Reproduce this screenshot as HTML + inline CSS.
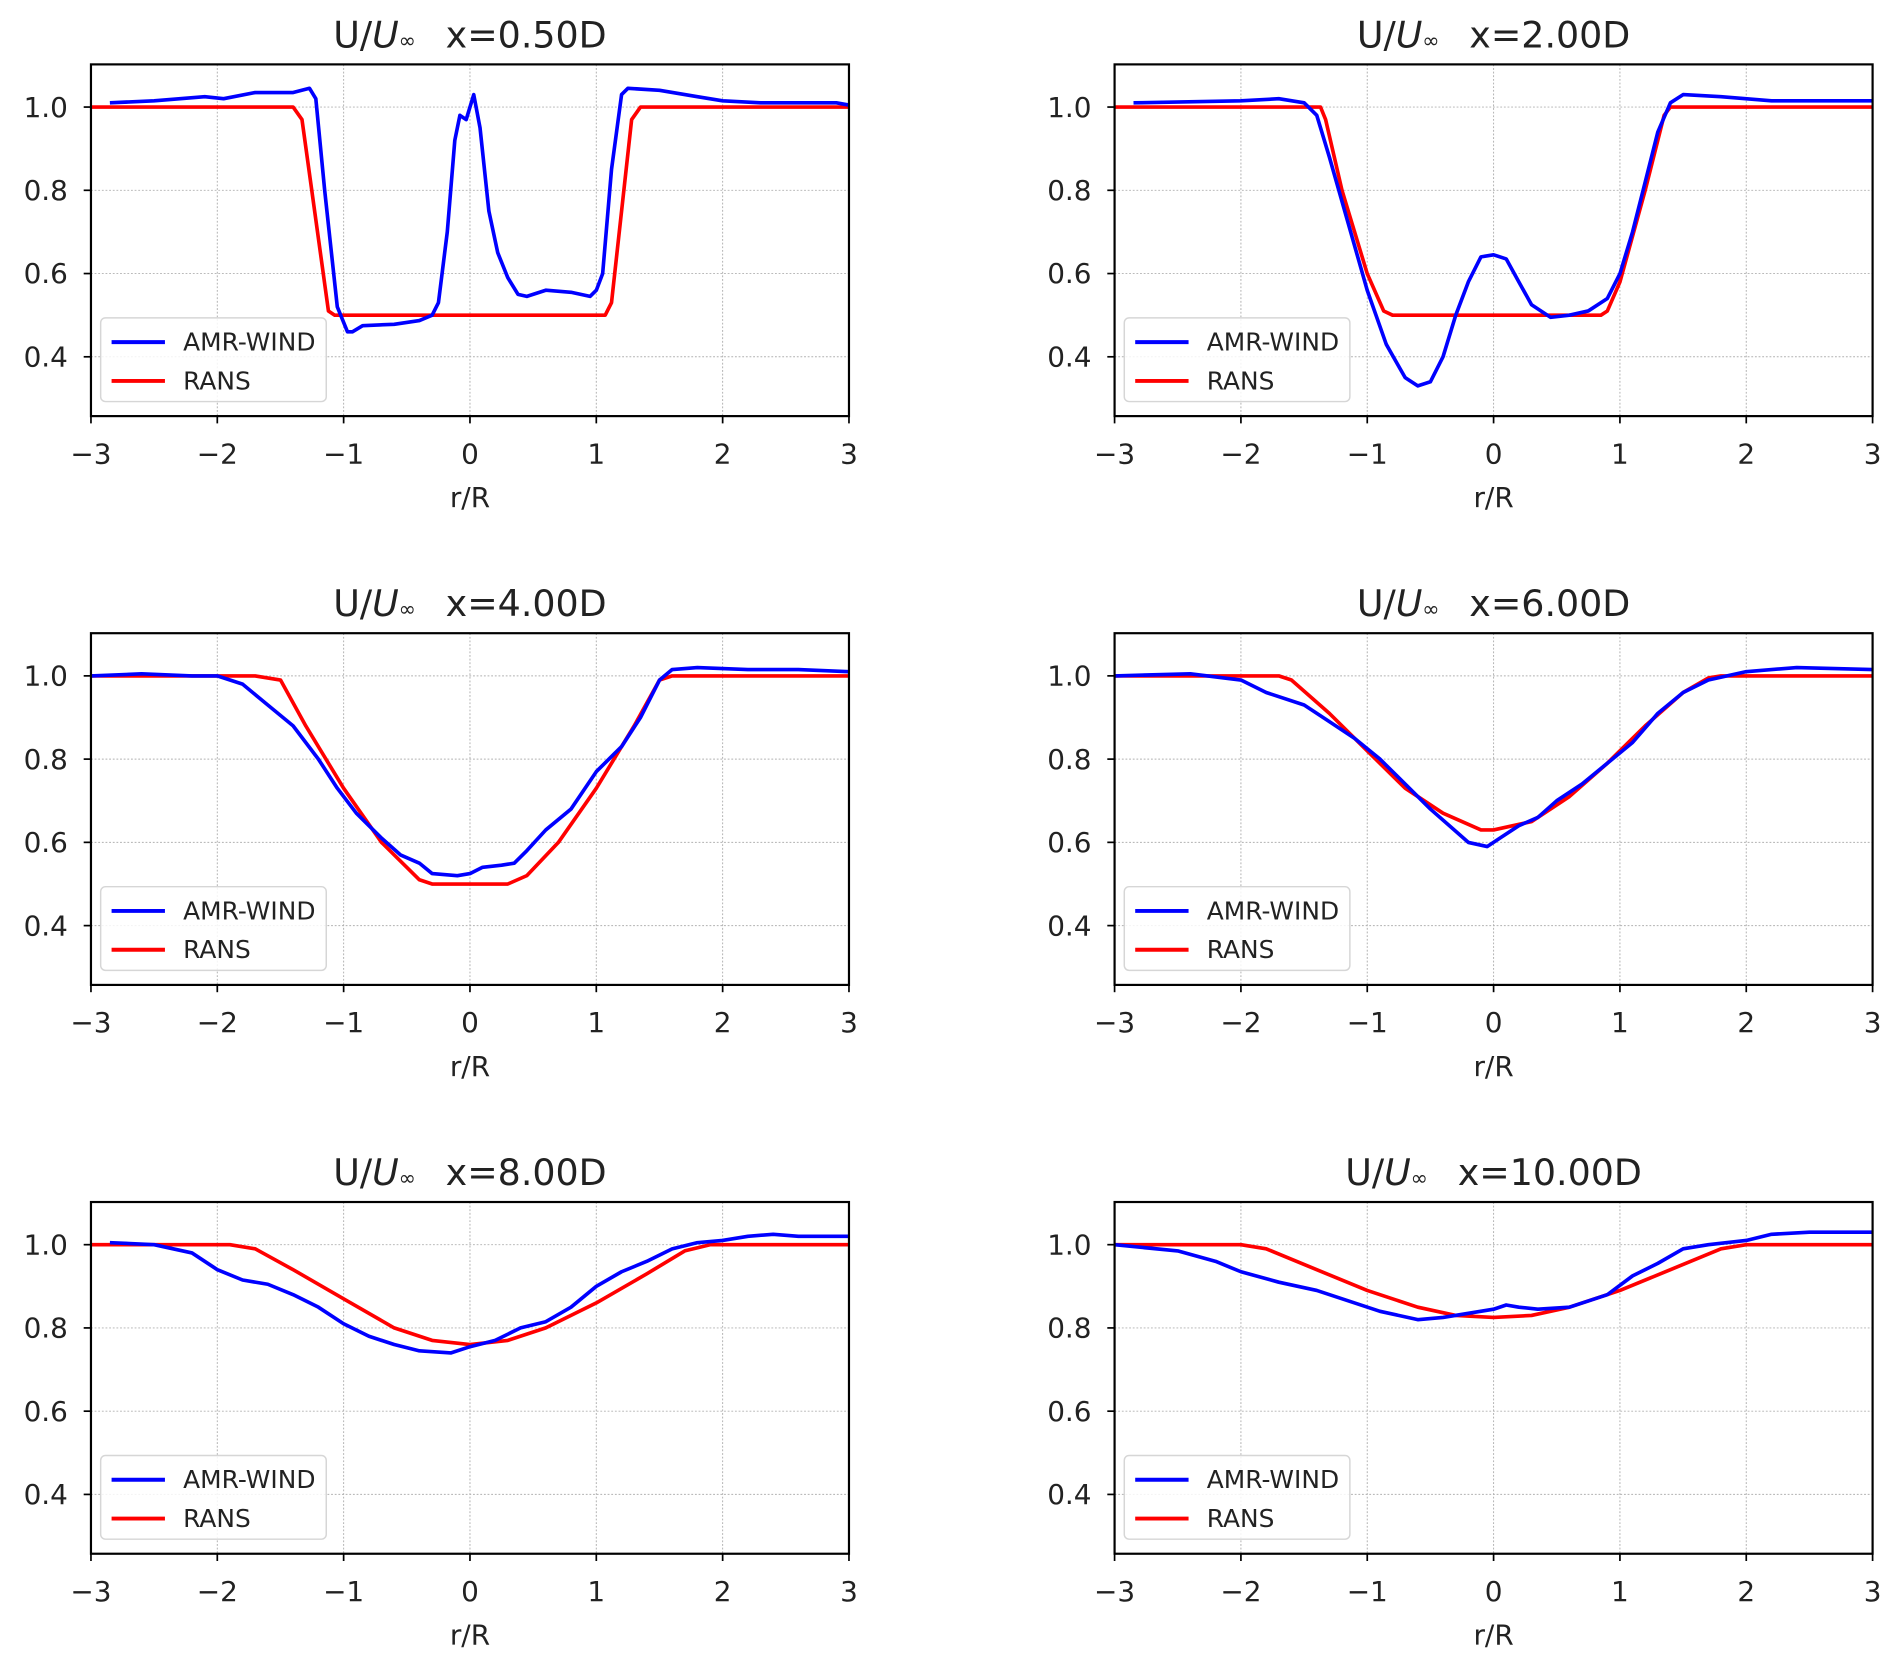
<!DOCTYPE html>
<html><head><meta charset="utf-8"><style>
html,body{margin:0;padding:0;background:#fff;}
svg{display:block;font-family:"DejaVu Sans","Liberation Sans",sans-serif;}
</style></head><body>
<svg id="fig" width="1892" height="1663" viewBox="0 0 1560 1371" xmlns="http://www.w3.org/2000/svg"></svg>
<script>
const titles = ["x=0.50D","x=2.00D","x=4.00D","x=6.00D","x=8.00D","x=10.00D"];
const xTicks = [-3,-2,-1,0,1,2,3];
const yTicks = [0.4,0.6,0.8,1.0];
const amrR = [
 [-2.85,-2.5,-2.1,-1.95,-1.7,-1.4,-1.27,-1.22,-1.15,-1.05,-0.97,-0.93,-0.85,-0.6,-0.4,-0.3,-0.25,-0.18,-0.12,-0.08,-0.03,0.03,0.08,0.15,0.22,0.3,0.38,0.45,0.6,0.8,0.95,1.0,1.05,1.12,1.2,1.25,1.5,1.8,2.0,2.3,2.6,2.9,3.0],
 [-2.85,-2,-1.7,-1.5,-1.4,-1.3,-1.15,-1.0,-0.85,-0.7,-0.6,-0.5,-0.4,-0.3,-0.2,-0.1,0,0.1,0.2,0.3,0.45,0.6,0.75,0.9,1.0,1.1,1.2,1.3,1.4,1.5,1.8,2.2,2.5,3],
 [-3,-2.6,-2.2,-2.0,-1.8,-1.6,-1.4,-1.2,-1.05,-0.9,-0.7,-0.55,-0.4,-0.3,-0.1,0,0.1,0.25,0.35,0.45,0.6,0.8,1.0,1.2,1.35,1.5,1.6,1.8,2.2,2.6,3],
 [-3,-2.4,-2.0,-1.8,-1.5,-1.3,-1.1,-0.9,-0.7,-0.5,-0.35,-0.2,-0.05,0.05,0.2,0.35,0.5,0.7,0.9,1.1,1.3,1.5,1.7,2.0,2.4,3],
 [-2.85,-2.5,-2.2,-2.0,-1.8,-1.6,-1.4,-1.2,-1.0,-0.8,-0.6,-0.4,-0.15,0,0.2,0.4,0.6,0.8,1.0,1.2,1.4,1.6,1.8,2.0,2.2,2.4,2.6,3],
 [-3,-2.5,-2.2,-2.0,-1.7,-1.4,-1.1,-0.9,-0.6,-0.4,-0.2,0,0.1,0.2,0.35,0.6,0.9,1.1,1.3,1.5,1.7,2.0,2.2,2.5,3]
];
const amrU = [
 [1.01,1.015,1.025,1.02,1.035,1.035,1.045,1.02,0.8,0.52,0.46,0.46,0.475,0.478,0.487,0.5,0.53,0.7,0.92,0.98,0.97,1.03,0.95,0.75,0.65,0.59,0.55,0.545,0.56,0.555,0.545,0.56,0.6,0.85,1.03,1.045,1.04,1.025,1.015,1.01,1.01,1.01,1.005],
 [1.01,1.015,1.02,1.01,0.98,0.88,0.72,0.56,0.43,0.35,0.33,0.34,0.4,0.5,0.58,0.64,0.645,0.635,0.58,0.525,0.495,0.5,0.51,0.54,0.6,0.7,0.82,0.94,1.01,1.03,1.025,1.015,1.015,1.015],
 [1.0,1.005,1.0,1.0,0.98,0.93,0.88,0.8,0.73,0.67,0.61,0.57,0.55,0.525,0.52,0.525,0.54,0.545,0.55,0.58,0.63,0.68,0.77,0.83,0.9,0.99,1.015,1.02,1.015,1.015,1.01],
 [1.0,1.005,0.99,0.96,0.93,0.89,0.85,0.8,0.74,0.68,0.64,0.6,0.59,0.61,0.64,0.66,0.7,0.74,0.79,0.84,0.91,0.96,0.99,1.01,1.02,1.015],
 [1.005,1.0,0.98,0.94,0.915,0.905,0.88,0.85,0.81,0.78,0.76,0.745,0.74,0.755,0.77,0.8,0.815,0.85,0.9,0.935,0.96,0.99,1.005,1.01,1.02,1.025,1.02,1.02],
 [1.0,0.985,0.96,0.935,0.91,0.89,0.86,0.84,0.82,0.825,0.835,0.845,0.855,0.85,0.845,0.85,0.88,0.925,0.955,0.99,1.0,1.01,1.025,1.03,1.03]
];
const ransR = [
 [-3,-1.4,-1.33,-1.12,-1.07,1.07,1.12,1.28,1.35,3],
 [-3,-1.37,-1.33,-1.2,-1.0,-0.87,-0.8,0.85,0.9,1.0,1.2,1.35,1.4,3],
 [-3,-1.7,-1.5,-1.3,-1.0,-0.7,-0.4,-0.3,0.3,0.45,0.7,1.0,1.3,1.5,1.6,3],
 [-3,-1.7,-1.6,-1.3,-1.0,-0.7,-0.4,-0.1,0,0.3,0.6,0.9,1.2,1.5,1.7,1.8,3],
 [-3,-1.9,-1.7,-1.4,-1.0,-0.6,-0.3,0,0.3,0.6,1.0,1.4,1.7,1.9,3],
 [-3,-2.0,-1.8,-1.4,-1.0,-0.6,-0.3,0,0.3,0.6,1.0,1.4,1.8,2.0,3]
];
const ransU = [
 [1,1,0.97,0.51,0.5,0.5,0.53,0.97,1,1],
 [1,1,0.97,0.8,0.6,0.51,0.5,0.5,0.51,0.58,0.8,0.98,1,1],
 [1,1,0.99,0.88,0.73,0.6,0.51,0.5,0.5,0.52,0.6,0.73,0.88,0.99,1,1],
 [1,1,0.99,0.91,0.82,0.73,0.67,0.63,0.63,0.65,0.71,0.79,0.88,0.96,0.995,1,1],
 [1,1,0.99,0.94,0.87,0.8,0.77,0.76,0.77,0.8,0.86,0.93,0.985,1,1],
 [1,1,0.99,0.94,0.89,0.85,0.83,0.825,0.83,0.85,0.89,0.94,0.99,1,1]
];
const NS="http://www.w3.org/2000/svg";
const svg=document.getElementById('fig');
function el(tag,attrs,parent,text){const e=document.createElementNS(NS,tag);for(const k in attrs)e.setAttribute(k,attrs[k]);if(text!==undefined)e.textContent=text;(parent||svg).appendChild(e);return e;}
const Y0=0.2575,Y1=1.1025;
for(let p=0;p<6;p++){
  const col=p%2,row=Math.floor(p/2);
  const L=75+col*844,R=700+col*844,T=53+row*469,B=343+row*469;
  const sx=v=>L+(v+3)/6*(R-L);
  const sy=v=>B-(v-Y0)/(Y1-Y0)*(B-T);
  const g=el('g',{});
  
  
  xTicks.forEach(t=>{const ln=el('line',{x1:sx(t),x2:sx(t),y1:T,y2:B,stroke:'#b0b0b0','stroke-width':0.8,'stroke-dasharray':'1.5,1.5'},g);});
  yTicks.forEach(t=>{const ln=el('line',{x1:L,x2:R,y1:sy(t),y2:sy(t),stroke:'#b0b0b0','stroke-width':0.8,'stroke-dasharray':'1.5,1.5'},g);});
  const mk=(rs,us)=>rs.map((r,i)=>sx(r).toFixed(1)+','+sy(us[i]).toFixed(1)).join(' ');
  const pr=el('polyline',{points:mk(ransR[p],ransU[p]),fill:'none',stroke:'#ff0000','stroke-width':3,'stroke-linejoin':'round'},g);
  
  const pa=el('polyline',{points:mk(amrR[p],amrU[p]),fill:'none',stroke:'#0000ff','stroke-width':3,'stroke-linejoin':'round'},g);
  
  const fr=el('rect',{x:L,y:T,width:R-L,height:B-T,fill:'none',stroke:'#000','stroke-width':1.8},g);
  
  xTicks.forEach(t=>{el('line',{x1:sx(t),x2:sx(t),y1:B,y2:B+6,stroke:'#000','stroke-width':1.4},g);
    const tx=el('text',{x:sx(t),y:B+39,'text-anchor':'middle','font-size':23,fill:'#222'},g,t<0?'\u2212'+(-t):String(t));
    });
  yTicks.forEach(t=>{el('line',{x1:L-6,x2:L,y1:sy(t),y2:sy(t),stroke:'#000','stroke-width':1.4},g);
    const tx=el('text',{x:L-19,y:sy(t)+8,'text-anchor':'end','font-size':23,fill:'#222'},g,t.toFixed(1));
    });
  const xl=el('text',{x:(L+R)/2,y:B+75,'text-anchor':'middle','font-size':23,fill:'#222'},g,'r/R');
  
  const tt=el('text',{x:(L+R)/2,y:T-14,'text-anchor':'middle','font-size':30,fill:'#222'},g);
  
  el('tspan',{},tt,'U/');el('tspan',{'font-style':'italic'},tt,'U');el('tspan',{'font-size':17},tt,'\u221E');el('tspan',{},tt,'\u2002 '+titles[p]);
  const lg=el('g',{},g);
  
  el('rect',{x:L+8,y:T+209,width:186,height:69,rx:4,fill:'#fff','fill-opacity':0.85,stroke:'#d6d6d6','stroke-width':1.2},lg);
  el('line',{x1:L+17,x2:L+61,y1:T+229,y2:T+229,stroke:'#0000ff','stroke-width':3.2},lg);
  el('line',{x1:L+17,x2:L+61,y1:T+261,y2:T+261,stroke:'#ff0000','stroke-width':3.2},lg);
  const t1=el('text',{x:L+76,y:T+236,'font-size':20.5,fill:'#222'},lg,'AMR-WIND');
  
  const t2=el('text',{x:L+76,y:T+268,'font-size':20.5,fill:'#222'},lg,'RANS');
  
}
</script>
</body></html>
